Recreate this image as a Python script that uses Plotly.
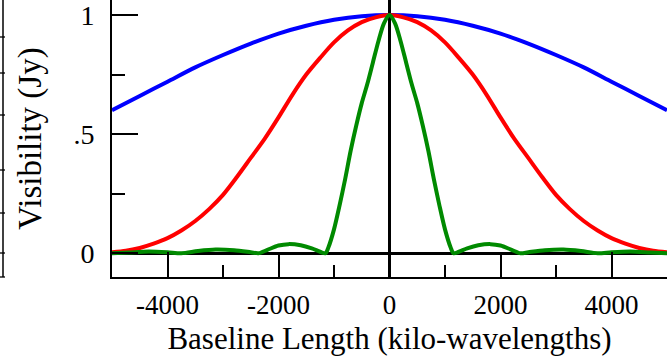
import plotly.graph_objects as go

# ---------------- data ----------------
blue_x = [-5000, -4500, -4000, -3500, -3000, -2500, -2000, -1500, -1000, -500, 0,
          500, 1000, 1500, 2000, 2500, 3000, 3500, 4000, 4500, 5000]
blue_y = [0.60, 0.66, 0.72, 0.78, 0.832, 0.88, 0.922, 0.955, 0.98, 0.995, 1.0,
          0.995, 0.98, 0.955, 0.922, 0.88, 0.832, 0.78, 0.72, 0.66, 0.60]

red_x = [-5000, -4750, -4500, -4250, -4000, -3750, -3500, -3250, -3000, -2750, -2500,
         -2250, -2000, -1750, -1500, -1250, -1000, -750, -500, -250, 0,
         250, 500, 750, 1000, 1250, 1500, 1750, 2000, 2250, 2500,
         2750, 3000, 3250, 3500, 3750, 4000, 4250, 4500, 4750, 5000]
red_y = [0.004, 0.01, 0.022, 0.04, 0.063, 0.095, 0.135, 0.185, 0.245, 0.32, 0.40,
         0.48, 0.57, 0.665, 0.75, 0.82, 0.885, 0.935, 0.97, 0.99, 1.0,
         0.99, 0.97, 0.935, 0.885, 0.82, 0.75, 0.665, 0.57, 0.48, 0.40,
         0.32, 0.245, 0.185, 0.135, 0.095, 0.063, 0.04, 0.022, 0.01, 0.004]

green_x = [-5000, -4700, -4340, -4000, -3750, -3450, -3135, -2800, -2500, -2360,
           -2200, -2000, -1820, -1600, -1400, -1250, -1153, -1100, -1000, -900,
           -800, -700, -600, -500, -400, -300, -200, -100, 0,
           100, 200, 300, 400, 500, 600, 700, 800, 900, 1000,
           1100, 1153, 1250, 1400, 1600, 1820, 2000, 2200, 2360, 2500,
           2800, 3135, 3450, 3750, 4000, 4340, 4700, 5000]
green_y = [0.0, 0.003, 0.007, 0.004, 0.0, 0.009, 0.015, 0.012, 0.004, 0.0,
           0.014, 0.032, 0.038, 0.033, 0.02, 0.006, 0.0, 0.025, 0.10, 0.20,
           0.31, 0.43, 0.535, 0.63, 0.71, 0.80, 0.89, 0.965, 1.0,
           0.965, 0.89, 0.80, 0.71, 0.63, 0.535, 0.43, 0.31, 0.20, 0.10,
           0.025, 0.0, 0.006, 0.02, 0.033, 0.038, 0.032, 0.014, 0.0, 0.004,
           0.012, 0.015, 0.009, 0.0, 0.004, 0.007, 0.003, 0.0]

x_major = [-4000, -2000, 0, 2000, 4000]
x_major_text = ["-4000", "-2000", "0", "2000", "4000"]
x_minor = [-3000, -1000, 1000, 3000]
y_major = [0, 0.5, 1]
y_major_text = ["0", ".5", "1"]
y_minor = [0.25, 0.75]

x_title = "Baseline Length (kilo-wavelengths)"
y_title = "Visibility (Jy)"

# ---------------- figure ----------------
W, H = 668, 356
ML, MR, MT, MB = 112, 1, 0, 79
FONT = "Liberation Serif"

fig = go.Figure()
for xs, ys, col in [(blue_x, blue_y, "#0000ff"), (red_x, red_y, "#ff0000"), (green_x, green_y, "#008a00")]:
    fig.add_trace(go.Scatter(x=xs, y=ys, mode="lines", showlegend=False, hoverinfo="skip",
                             line=dict(color=col, width=4, shape="spline", smoothing=0.8)))

XR = [-5000, 5000]
YR = [-0.1, 1.063]
common = dict(showgrid=False, tickcolor="black", tickwidth=1.6)

fig.update_layout(
    width=W, height=H, margin=dict(l=ML, r=MR, t=MT, b=MB),
    paper_bgcolor="white", plot_bgcolor="white",
    font=dict(family=FONT, color="black"),
    xaxis=dict(range=XR, showline=True, linecolor="black", linewidth=2,
               zeroline=True, zerolinecolor="black", zerolinewidth=3,
               ticks="inside", ticklen=25, tickvals=x_major, ticktext=x_major_text,
               minor=dict(ticks="inside", ticklen=12, tickvals=x_minor, tickcolor="black", tickwidth=1.6),
               tickfont=dict(family=FONT, size=27, color="black"),
               ticklabelstandoff=3, ticklabeloverflow="allow",
               title=dict(text=x_title, font=dict(family=FONT, size=31, color="black"), standoff=8),
               **common),
    yaxis=dict(range=YR, showline=True, linecolor="black", linewidth=2,
               zeroline=True, zerolinecolor="black", zerolinewidth=3,
               ticks="inside", ticklen=26, tickvals=y_major, ticktext=y_major_text,
               minor=dict(ticks="inside", ticklen=13, tickvals=y_minor, tickcolor="black", tickwidth=1.6),
               tickfont=dict(family=FONT, size=28, color="black"),
               ticklabelstandoff=10, ticklabeloverflow="allow",
               title=dict(text=y_title, font=dict(family=FONT, size=33, color="black"), standoff=22),
               **common),
    xaxis2=dict(range=XR, overlaying="x", anchor="y", side="top", showline=False, zeroline=False,
                ticks="inside", ticklen=16, tickvals=x_major, showticklabels=False,
                minor=dict(ticks="inside", ticklen=3, tickvals=x_minor, tickcolor="black", tickwidth=1.6),
                **common),
    yaxis2=dict(range=YR, overlaying="y", anchor="x", side="right", showline=True, linecolor="black",
                linewidth=2, zeroline=False,
                ticks="inside", ticklen=26, tickvals=y_major, showticklabels=False,
                minor=dict(ticks="inside", ticklen=13, tickvals=y_minor, tickcolor="black", tickwidth=1.6),
                **common),
)

# fragment of the neighbouring panel at the far left edge (pixel positions)
pw = W - ML - MR
ph = H - MT - MB
def px2x(p):
    return (p - ML) / pw
def py2y(p):
    return (H - MB - p) / ph
fig.add_shape(type="line", xref="paper", yref="paper", x0=px2x(3), x1=px2x(3),
              y0=py2y(277), y1=1, line=dict(color="black", width=1.5))
for ty in [37, 73, 115, 170, 213, 253, 277]:
    fig.add_shape(type="line", xref="paper", yref="paper", x0=px2x(0), x1=px2x(5),
                  y0=py2y(ty), y1=py2y(ty), line=dict(color="black", width=1.3))

fig.write_html("out.html")
